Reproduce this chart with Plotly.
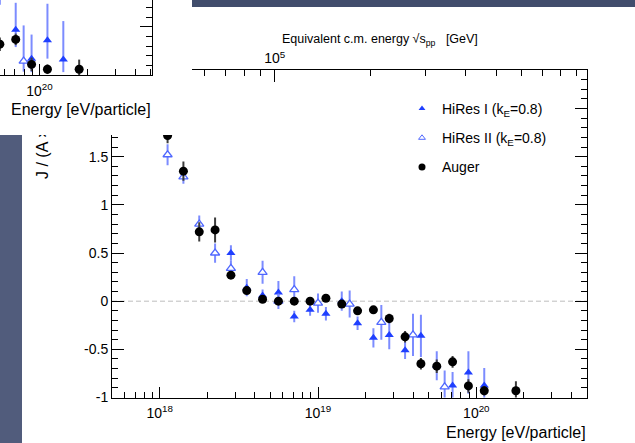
import math
import plotly.graph_objects as go

W, H = 635, 443
FONT = "Liberation Sans, Arial, Helvetica, sans-serif"

# ---------------- flux ratio data (log10 E, ratio, error) ----------------
auger_logE = [18.05, 18.15, 18.25, 18.35, 18.45, 18.55, 18.65, 18.75, 18.85, 18.95,
              19.05, 19.15, 19.25, 19.35, 19.45, 19.55, 19.65, 19.75, 19.85, 19.95,
              20.05, 20.25]
auger_ratio = [1.72, 1.35, 0.72, 0.74, 0.27, 0.11, 0.02, 0.0, 0.0, 0.0,
               0.03, -0.03, -0.10, -0.09, -0.18, -0.37, -0.65, -0.675, -0.63, -0.88,
               -0.93, -0.93]
auger_err = [0.08, 0.10, 0.10, 0.13, 0.03, 0.03, 0.03, 0.03, 0.03, 0.03,
             0.03, 0.03, 0.04, 0.04, 0.05, 0.06, 0.06, 0.07, 0.06, 0.07,
             0.05, 0.10]

hires1_logE = [18.45, 18.55, 18.65, 18.75, 18.85, 18.95, 19.05, 19.15, 19.25, 19.35,
               19.45, 19.55, 19.65, 19.75, 19.85, 19.95, 20.05]
hires1_ratio = [0.50, 0.14, 0.06, 0.09, -0.16, -0.09, -0.13, 0.0, -0.23, -0.38,
                -0.35, -0.51, -0.36, -0.67, -0.875, -0.74, -0.875]
hires1_err = [0.08, 0.09, 0.06, 0.12, 0.06, 0.06, 0.07, 0.10, 0.07, 0.10,
              0.15, 0.09, 0.22, 0.15, 0.14, 0.22, 0.18]

hires2_logE = [18.05, 18.15, 18.25, 18.35, 18.45, 18.65, 18.75, 18.85,
               19.0, 19.2, 19.4, 19.6, 19.8]
hires2_ratio = [1.52, 1.29, 0.80, 0.50, 0.34, 0.30, 0.0, 0.12,
                -0.02, -0.03, -0.22, -0.35, -0.89]
hires2_err = [0.11, 0.07, 0.09, 0.10, 0.08, 0.12, 0.08, 0.14,
              0.10, 0.14, 0.18, 0.22, 0.17]

# ---------------- inset: corner of the previous version of the plot ----------------
inset_auger_logE = [19.75, 19.85, 19.95, 20.05, 20.25]
inset_auger_ratio = [-0.68, -0.63, -0.89, -0.94, -0.94]
inset_auger_err = [0.07, 0.06, 0.07, 0.05, 0.10]

inset_hires1_logE = [19.75, 19.85, 19.95, 20.05, 20.15]
inset_hires1_ratio = [-0.15, -0.53, -0.83, -0.64, -0.84]
inset_hires1_err_up = [0.12, 0.28, 0.25, 0.38, 0.40]
inset_hires1_err_down = [0.12, 0.18, 0.14, 0.19, 0.13]

inset_hires2_logE = [19.90]
inset_hires2_ratio = [-0.855]
inset_hires2_err_up = [0.37]
inset_hires2_err_down = [0.11]

# ---------------- axis ticks / labels ----------------
y_major = [-1, -0.5, 0, 0.5, 1, 1.5, 2]
y_major_text = ["-1", "-0.5", "0", "0.5", "1", "1.5", ""]
x_major = [1e18, 1e19, 1e20]
x_major_text = ["10<sup>18</sup>", "10<sup>19</sup>", "10<sup>20</sup>"]
sqrt_s_major = [1e5]
sqrt_s_major_text = ["10<sup>5</sup>"]

E_MIN, E_MAX = 5e17, 5e20
Y_MIN, Y_MAX = -1.0, 2.4
M_PROTON_GEV = 0.938272

legend_names = ["HiRes I (k<sub>E</sub>=0.8)", "HiRes II (k<sub>E</sub>=0.8)", "Auger"]

BLUE = "#1f3fff"
OPEN_BLUE = "#5068ff"
BAR_BLUE = "#7c8cff"
BAR_GREY = "#3c3c3c"
SLIDE_TOP = "#414d6c"
SLIDE_LEFT = "#515c7c"


def fx(p):
    return p / W


def fy(p):
    return 1 - p / H


def energies(logs):
    return [10.0 ** v for v in logs]


def minor_log(lo, hi):
    vals = []
    for e in range(int(math.floor(math.log10(lo))), int(math.ceil(math.log10(hi))) + 1):
        for m in range(2, 10):
            v = float(m) * 10.0 ** e
            if lo <= v <= hi:
                vals.append(v)
    return vals


def minor_lin(lo, hi, step, majors):
    vals = []
    n = int(round((hi - lo) / step))
    for i in range(n + 1):
        v = round(lo + i * step, 6)
        if all(abs(v - m) > 1e-9 for m in majors):
            vals.append(v)
    return vals


def sqrt_s_gev(e_ev):
    return math.sqrt(2 * M_PROTON_GEV * e_ev / 1e9)


fig = go.Figure()

# ---- main panel data ----
fig.add_trace(go.Scatter(
    x=energies(hires1_logE), y=hires1_ratio, mode="markers", showlegend=False,
    marker=dict(symbol="triangle-up", size=8, color=BLUE),
    error_y=dict(type="data", array=hires1_err, color=BAR_BLUE, thickness=2, width=0),
    xaxis="x", yaxis="y"))
fig.add_trace(go.Scatter(
    x=energies(hires2_logE), y=hires2_ratio, mode="markers", showlegend=False,
    marker=dict(symbol="triangle-up", size=8, color="white",
                line=dict(color=OPEN_BLUE, width=1.3)),
    error_y=dict(type="data", array=hires2_err, color=BAR_BLUE, thickness=2, width=0),
    xaxis="x", yaxis="y"))
fig.add_trace(go.Scatter(
    x=energies(auger_logE), y=auger_ratio, mode="markers", showlegend=False,
    marker=dict(symbol="circle", size=9, color="black"),
    error_y=dict(type="data", array=auger_err, color=BAR_GREY, thickness=2, width=0),
    xaxis="x", yaxis="y"))

# legend entries (small markers)
legend_markers = [
    dict(symbol="triangle-up", size=6, color=BLUE),
    dict(symbol="triangle-up", size=6, color="white", line=dict(color=OPEN_BLUE, width=1)),
    dict(symbol="circle", size=7, color="black"),
]
for i, (name, mk) in enumerate(zip(legend_names, legend_markers)):
    fig.add_trace(go.Scatter(x=[None], y=[None], mode="markers", name=name,
                             legendgroup=f"g{i}", marker=mk, xaxis="x", yaxis="y"))

# top axis carrier
fig.add_trace(go.Scatter(x=[None], y=[None], mode="markers", showlegend=False,
                         xaxis="x2", yaxis="y"))
# pasted panel in the upper-left corner
fig.add_trace(go.Scatter(x=[None], y=[None], mode="markers", showlegend=False,
                         xaxis="x3", yaxis="y3"))

# ---- inset data ----
fig.add_trace(go.Scatter(
    x=energies(inset_hires1_logE), y=inset_hires1_ratio, mode="markers", showlegend=False,
    marker=dict(symbol="triangle-up", size=8, color=BLUE),
    error_y=dict(type="data", array=inset_hires1_err_up, arrayminus=inset_hires1_err_down,
                 color=BAR_BLUE, thickness=2, width=0),
    xaxis="x4", yaxis="y4"))
fig.add_trace(go.Scatter(
    x=energies(inset_hires2_logE), y=inset_hires2_ratio, mode="markers", showlegend=False,
    marker=dict(symbol="triangle-up", size=8, color="white",
                line=dict(color=OPEN_BLUE, width=1.3)),
    error_y=dict(type="data", array=inset_hires2_err_up, arrayminus=inset_hires2_err_down,
                 color=BAR_BLUE, thickness=2, width=0),
    xaxis="x4", yaxis="y4"))
fig.add_trace(go.Scatter(
    x=energies(inset_auger_logE), y=inset_auger_ratio, mode="markers", showlegend=False,
    marker=dict(symbol="circle", size=9, color="black"),
    error_y=dict(type="data", array=inset_auger_err, color=BAR_GREY, thickness=2, width=0),
    xaxis="x4", yaxis="y4"))

tickfont = dict(family=FONT, size=14, color="black")
main_xdom = [fx(112), fx(587)]
main_ydom = [fy(397.5), fy(70)]
x_range = [math.log10(E_MIN), math.log10(E_MAX)]
s_range = [math.log10(sqrt_s_gev(E_MIN)), math.log10(sqrt_s_gev(E_MAX))]

axis_common = dict(showgrid=False, zeroline=False, showline=True, linecolor="black",
                   linewidth=1, ticks="inside", tickcolor="black", tickwidth=1,
                   tickfont=tickfont, automargin=False, fixedrange=True)

inset_xrange = [19.751, 20.709]
inset_yrange = [-1.0, -0.221]

fig.update_layout(
    width=W, height=H,
    margin=dict(l=0, r=0, t=0, b=0),
    paper_bgcolor=SLIDE_TOP,
    plot_bgcolor="white",
    font=dict(family=FONT, color="black"),
    xaxis=dict(**axis_common, type="log", range=x_range, domain=main_xdom, anchor="y",
               tickmode="array", tickvals=x_major, ticktext=x_major_text, ticklen=11,
               ticklabelstandoff=3,
               minor=dict(tickmode="array", tickvals=minor_log(E_MIN, E_MAX), ticklen=6,
                          ticks="inside", tickcolor="black", showgrid=False)),
    xaxis2=dict(**axis_common, type="log", range=s_range, domain=main_xdom, anchor="y",
                overlaying="x", side="top",
                tickmode="array", tickvals=sqrt_s_major, ticktext=sqrt_s_major_text,
                ticklen=12,
                minor=dict(tickmode="array",
                           tickvals=minor_log(sqrt_s_gev(E_MIN), sqrt_s_gev(E_MAX)),
                           ticklen=6, ticks="inside", tickcolor="black", showgrid=False)),
    yaxis=dict(**axis_common, range=[Y_MIN, Y_MAX], domain=main_ydom, anchor="x",
               mirror="ticks", tickmode="array", tickvals=y_major, ticktext=y_major_text,
               ticklen=12,
               minor=dict(tickmode="array", tickvals=minor_lin(Y_MIN, Y_MAX, 0.1, y_major),
                          ticklen=6, ticks="inside", tickcolor="black", showgrid=False)),
    xaxis3=dict(domain=[0, fx(192)], anchor="y3", range=[0, 1], showline=False,
                showticklabels=False, ticks="", showgrid=False, zeroline=False,
                fixedrange=True),
    yaxis3=dict(domain=[fy(135), 1], anchor="x3", range=[0, 1], showline=False,
                showticklabels=False, ticks="", showgrid=False, zeroline=False,
                fixedrange=True),
    xaxis4=dict(**axis_common, type="log", range=inset_xrange, domain=[0, fx(152)],
                anchor="y4", tickmode="array", tickvals=[1e20],
                ticktext=["10<sup>20</sup>"], ticklen=11, ticklabelstandoff=3,
                minor=dict(tickmode="array",
                           tickvals=minor_log(10 ** inset_xrange[0], 10 ** inset_xrange[1]),
                           ticklen=6, ticks="inside", tickcolor="black", showgrid=False)),
    yaxis4=dict(**axis_common, range=inset_yrange, domain=[fy(75), 1], anchor="x4",
                side="right", tickmode="array", tickvals=[-0.5], showticklabels=False,
                ticklen=12,
                minor=dict(tickmode="array",
                           tickvals=minor_lin(-1.0, -0.3, 0.1, [-0.5, -1.0]),
                           ticklen=6, ticks="inside", tickcolor="black", showgrid=False)),
    legend=dict(x=fx(402), y=fy(93), xanchor="left", yanchor="top",
                bgcolor="rgba(0,0,0,0)", borderwidth=0, traceorder="grouped",
                tracegroupgap=8, font=dict(family=FONT, size=14, color="black"),
                itemclick=False, itemdoubleclick=False),
    showlegend=True,
)

# slide panels and zero reference line
fig.add_shape(type="rect", xref="paper", yref="paper", x0=fx(22), x1=1, y0=0, y1=fy(7),
              fillcolor="white", line=dict(width=0), layer="below")
fig.add_shape(type="rect", xref="paper", yref="paper", x0=0, x1=fx(22), y0=0, y1=fy(135),
              fillcolor=SLIDE_LEFT, line=dict(width=0), layer="below")
fig.add_shape(type="rect", xref="paper", yref="paper", x0=0, x1=fx(192), y0=fy(135), y1=1,
              fillcolor="white", line=dict(width=0), layer="below")
fig.add_shape(type="line", xref="x domain", yref="y", x0=0, x1=1, y0=0, y1=0,
              line=dict(color="#bdbdbd", width=1, dash="5px,3px"), layer="below")

NBSP = "\u00a0"
fig.add_annotation(text="J / (A ×", textangle=-90, xref="paper", yref="paper",
                   x=fx(43), y=fy(180), xanchor="center", yanchor="bottom",
                   showarrow=False, borderpad=0,
                   font=dict(family=FONT, size=16, color="black"))
fig.add_annotation(text=NBSP, xref="paper", yref="paper", x=fx(27), y=fy(116),
                   xanchor="left", yanchor="top", width=32, height=19, bgcolor="white",
                   showarrow=False, borderpad=0, borderwidth=0)
fig.add_annotation(text="Equivalent c.m. energy √s<sub>pp</sub>" + NBSP * 3 + "[GeV]",
                   xref="paper", yref="paper", x=fx(380), y=fy(40), xanchor="center",
                   yanchor="middle", showarrow=False, borderpad=0,
                   font=dict(family=FONT, size=12.5, color="black"))
fig.add_annotation(text="Energy [eV/particle]", xref="paper", yref="paper",
                   x=fx(587), y=fy(432), xanchor="right", yanchor="middle",
                   showarrow=False, borderpad=0,
                   font=dict(family=FONT, size=16, color="black"))
fig.add_annotation(text="Energy [eV/particle]", xref="paper", yref="paper",
                   x=fx(152), y=fy(109), xanchor="right", yanchor="middle",
                   showarrow=False, borderpad=0,
                   font=dict(family=FONT, size=16, color="black"))

fig.write_html("out.html")
